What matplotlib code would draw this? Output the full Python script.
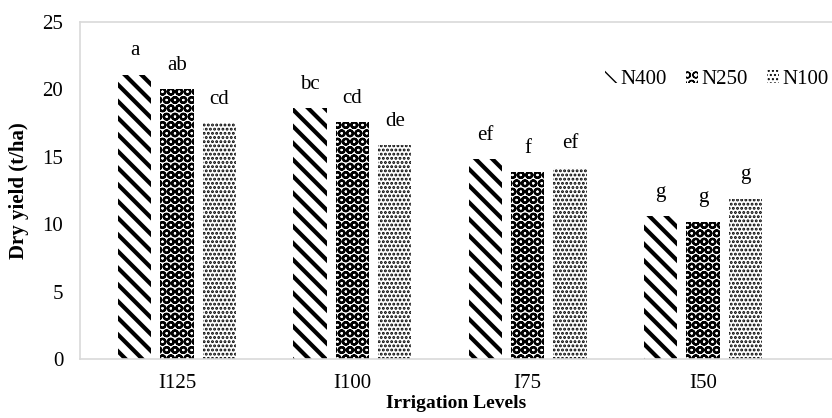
import numpy as np
import matplotlib
matplotlib.use("Agg")
from matplotlib import pyplot as plt

plt.rcParams['font.family'] = ['Liberation Serif', 'DejaVu Serif']

# Data
levels = ['I125', 'I100', 'I75', 'I50']
series = ['N400', 'N250', 'N100']
n400 = [21.1, 18.6, 14.8, 10.6]
n250 = [20.0, 17.6, 13.9, 10.2]
n100 = [17.5, 15.9, 14.2, 11.9]
letters_n400 = ['a', 'bc', 'ef', 'g']
letters_n250 = ['ab', 'cd', 'f', 'g']
letters_n100 = ['cd', 'de', 'ef', 'g']

values = [n400, n250, n100]
letters = [letters_n400, letters_n250, letters_n100]
hatches = ['\\\\', 'OO', '....']
hatch_lw = [3.0, 1.6, 1.4]

fig = plt.figure(figsize=(8.32, 4.18), dpi=100)
ax = fig.add_axes([80/832, 59/418, 1 - 80/832, 337/418])

x = np.arange(len(levels))
width = 0.19
offset = 0.242

for i, (vals, name) in enumerate(zip(values, series)):
    bars = ax.bar(x + (i - 1)*offset, vals, width, color='white',
                  edgecolor='black', linewidth=0, hatch=hatches[i], label=name)
    for b in bars:
        if hasattr(b, 'set_hatch_linewidth'):
            b.set_hatch_linewidth(hatch_lw[i])
    for xi, v, t in zip(x, vals, letters[i]):
        ax.annotate(t, (xi + (i - 1)*offset, v), xytext=(0, 17),
                    textcoords='offset points', ha='center', va='center',
                    fontsize=15)

ax.set_xlim(-0.553, 3.736)
ax.set_ylim(0, 25)
ax.set_yticks([0, 5, 10, 15, 20, 25])
ax.set_xticks(x)
ax.set_xticklabels(levels)
ax.tick_params(axis='both', length=0, labelsize=15)
ax.tick_params(axis='y', pad=12)
ax.tick_params(axis='x', pad=11)

for s in ['left', 'bottom', 'top']:
    ax.spines[s].set_color('#d9d9d9')
    ax.spines[s].set_linewidth(1.2)
ax.spines['right'].set_visible(False)

ax.set_ylabel('Dry yield (t/ha)', fontsize=15, fontweight='bold', labelpad=10)
ax.set_xlabel('Irrigation Levels', fontsize=14, fontweight='bold', labelpad=1)

leg = ax.legend(loc='upper right', bbox_to_anchor=(1.012, 0.895), ncol=3, frameon=False,
                fontsize=15, handlelength=0.6, handleheight=0.6, handletextpad=0.15,
                columnspacing=0.9, borderaxespad=0.2)

fig.savefig('out.png', dpi=100)
